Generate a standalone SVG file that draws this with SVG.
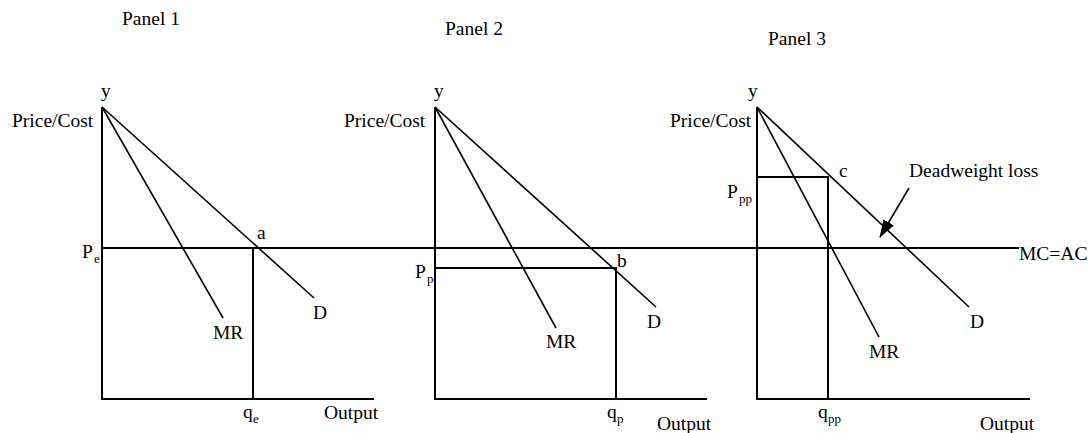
<svg xmlns="http://www.w3.org/2000/svg" width="1092" height="433" viewBox="0 0 1092 433">
<style>
text{font-family:"Liberation Serif","Times New Roman",serif;font-size:19.5px;fill:#000}
.sub{font-size:13px}
.ax{stroke:#000;stroke-width:2;fill:none}
.cv{stroke:#000;stroke-width:1.6;fill:none}
</style>
<defs>
<marker id="ah" viewBox="0 0 18 12" refX="17" refY="6" markerWidth="18" markerHeight="12" markerUnits="userSpaceOnUse" orient="auto">
<path d="M0,0 L18,6 L0,12 Z" fill="#000"/>
</marker>
</defs>
<rect width="1092" height="433" fill="#fff"/>
<g id="connectors">
<line class="ax" x1="102" y1="248" x2="1019" y2="248"/>
<line class="cv" x1="909" y1="188" x2="880" y2="237" marker-end="url(#ah)"/>
</g>
<g id="panel1">
<text x="122" y="25">Panel 1</text>
<text x="101" y="97">y</text>
<text x="12" y="127">Price/Cost</text>
<polyline class="ax" points="102,107 102,399 374,399"/>
<line class="cv" x1="102" y1="107" x2="314" y2="298"/>
<line class="cv" x1="102" y1="107" x2="223" y2="318"/>
<line class="ax" x1="253" y1="248" x2="253" y2="399"/>
<text x="257" y="239">a</text>
<text x="313" y="319">D</text>
<text x="213" y="339">MR</text>
<text x="82" y="258">P</text><text class="sub" x="94" y="263">e</text>
<text x="243" y="418">q</text><text class="sub" x="253" y="423">e</text>
<text x="324" y="419">Output</text>
</g>
<g id="panel2">
<text x="445" y="35">Panel 2</text>
<text x="434" y="97">y</text>
<text x="344" y="127">Price/Cost</text>
<polyline class="ax" points="435,107 435,399 707,399"/>
<line class="cv" x1="435" y1="107" x2="656" y2="307"/>
<line class="cv" x1="435" y1="107" x2="556" y2="328"/>
<polyline class="ax" points="435,268 616,268 616,399"/>
<text x="617" y="267">b</text>
<text x="647" y="328">D</text>
<text x="546" y="348">MR</text>
<text x="415" y="278">P</text><text class="sub" x="427" y="283">p</text>
<text x="607" y="418">q</text><text class="sub" x="617" y="423">p</text>
<text x="657" y="430">Output</text>
</g>
<g id="panel3">
<text x="768" y="45">Panel 3</text>
<text x="748" y="97">y</text>
<text x="670" y="127">Price/Cost</text>
<polyline class="ax" points="757,107 757,399 1030,399"/>
<line class="cv" x1="757" y1="107" x2="969" y2="307"/>
<line class="cv" x1="757" y1="107" x2="879" y2="337"/>
<polyline class="ax" points="757,177 828,177 828,399"/>
<text x="839" y="177">c</text>
<text x="909" y="177">Deadweight loss</text>
<text x="970" y="328">D</text>
<text x="869" y="358">MR</text>
<text x="727" y="198">P</text><text class="sub" x="739" y="203">pp</text>
<text x="818" y="418">q</text><text class="sub" x="828" y="423">pp</text>
<text x="980" y="430">Output</text>
<text x="1019" y="260">MC=AC</text>
</g>
</svg>
